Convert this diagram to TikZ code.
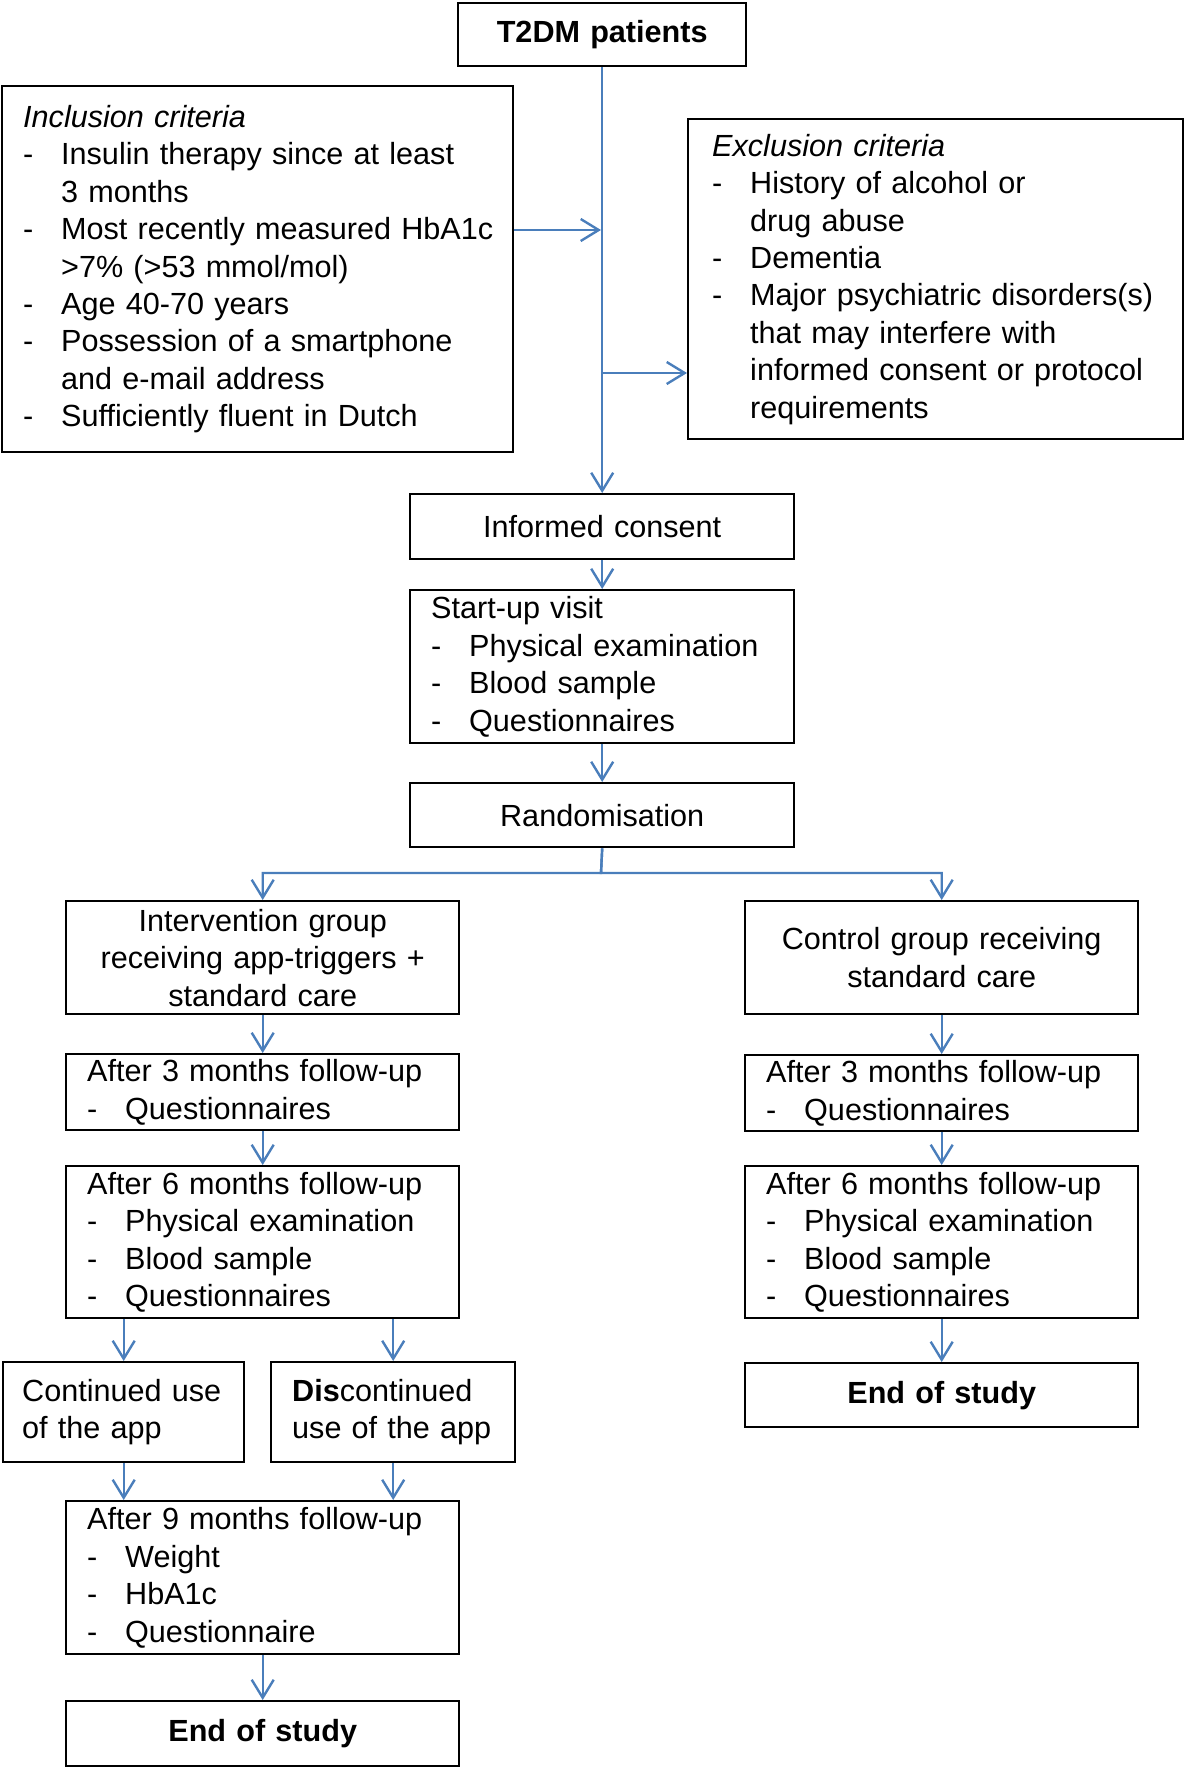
\documentclass[tikz,border=0pt]{standalone}
\usepackage{fontspec}
\setmainfont{Liberation Sans}
\usepackage{xcolor}
\usetikzlibrary{arrows.meta}
\definecolor{bleuOffice}{RGB}{74,126,187}

\begin{document}
\begin{tikzpicture}[x=0.5pt,y=-0.5pt]
% Styles (MODIFIABLES)
\tikzstyle{fleche}=[-{Straight Barb[length=9pt,width=11pt]},line width=1.2pt,draw=bleuOffice]
\tikzstyle{boite}=[draw,line width=1.2pt,inner xsep=10.5pt,inner ysep=0pt,anchor=north west,font=\fontsize{15.3}{18.7}\selectfont]
\tikzstyle{gauche}=[boite,align=left]
\tikzstyle{centre}=[boite,align=center]
% Dimensions (MODIFIABLES)
\def\Retrait{19pt}
\def\LargeurGrande{175.5pt}
\def\LargeurMoyenne{171pt}
% Lignes de texte
\def\Tiret#1{\mbox{\makebox[\Retrait][l]{-}#1}}
\def\Suite#1{\mbox{\hspace*{\Retrait}#1}}
% Cadre
\useasboundingbox (0,0) rectangle (1184,1767);
% Noeuds (MODIFIABLES)
\node[centre,text width=123pt,minimum height=31.5pt] (Patients) at (457,2) {\textbf{T2DM patients}};
\node[gauche,text width=234.5pt,minimum height=183pt] (Inclusion) at (1,85) {\textit{Inclusion criteria}\\
  \Tiret{Insulin therapy since at least}\\ \Suite{3 months}\\
  \Tiret{Most recently measured HbA1c}\\ \Suite{>7\% (>53 mmol/mol)}\\
  \Tiret{Age 40-70 years}\\
  \Tiret{Possession of a smartphone}\\ \Suite{and e-mail address}\\
  \Tiret{Sufficiently fluent in Dutch}};
\node[gauche,inner xsep=12pt,text width=223.5pt,minimum height=160pt] (Exclusion) at (687,118) {\textit{Exclusion criteria}\\
  \Tiret{History of alcohol or}\\ \Suite{drug abuse}\\
  \Tiret{Dementia}\\
  \Tiret{Major psychiatric disorders(s)}\\ \Suite{that may interfere with}\\
  \Suite{informed consent or protocol}\\ \Suite{requirements}};
\node[centre,text width=\LargeurMoyenne,minimum height=32.5pt] (Consentement) at (409,493) {Informed consent};
\node[gauche,text width=\LargeurMoyenne,minimum height=76.5pt] (Visite) at (409,589) {Start-up visit\\
  \Tiret{Physical examination}\\ \Tiret{Blood sample}\\ \Tiret{Questionnaires}};
\node[centre,text width=\LargeurMoyenne,minimum height=32pt] (Randomisation) at (409,782) {Randomisation};
% Bras intervention
\node[centre,text width=\LargeurGrande,minimum height=56.5pt] (Intervention) at (65,900) {Intervention group\\ receiving app-triggers +\\ standard care};
\node[gauche,text width=\LargeurGrande,minimum height=38pt] (SuiviTroisG) at (65,1053) {After 3 months follow-up\\ \Tiret{Questionnaires}};
\node[gauche,text width=\LargeurGrande,minimum height=76pt] (SuiviSixG) at (65,1165) {After 6 months follow-up\\
  \Tiret{Physical examination}\\ \Tiret{Blood sample}\\ \Tiret{Questionnaires}};
\node[gauche,inner xsep=9.5pt,text width=101.5pt,minimum height=50pt] (Continue) at (2,1361) {\mbox{Continued use}\\ \mbox{of the app}};
\node[gauche,text width=101pt,minimum height=50pt] (Arret) at (270,1361) {\mbox{\textbf{Dis}continued}\\ \mbox{use of the app}};
\node[gauche,text width=\LargeurGrande,minimum height=76.5pt] (SuiviNeuf) at (65,1500) {After 9 months follow-up\\
  \Tiret{Weight}\\ \Tiret{HbA1c}\\ \Tiret{Questionnaire}};
\node[centre,text width=\LargeurGrande,minimum height=32.5pt] (FinG) at (65,1700) {\textbf{End of study}};
% Bras controle
\node[centre,text width=\LargeurGrande,minimum height=56.5pt] (Controle) at (744,900) {Control group receiving\\ standard care};
\node[gauche,text width=\LargeurGrande,minimum height=38pt] (SuiviTroisD) at (744,1054) {After 3 months follow-up\\ \Tiret{Questionnaires}};
\node[gauche,text width=\LargeurGrande,minimum height=76pt] (SuiviSixD) at (744,1165) {After 6 months follow-up\\
  \Tiret{Physical examination}\\ \Tiret{Blood sample}\\ \Tiret{Questionnaires}};
\node[centre,text width=\LargeurGrande,minimum height=32pt] (FinD) at (744,1362) {\textbf{End of study}};
% Jonctions
\coordinate (JonctionA) at (601,230);
\coordinate (JonctionB) at (601,373);
\coordinate (Branche) at (601,873);
% Arcs (MODIFIABLES : Styles)
\draw[fleche] (Patients) -- (Consentement);
\draw[fleche] (JonctionA -| Inclusion.east) -- (JonctionA);
\draw[fleche] (JonctionB) -- (JonctionB -| Exclusion.west);
\draw[fleche] (Consentement) -- (Visite);
\draw[fleche] (Visite) -- (Randomisation);
\draw[fleche] (Randomisation.south) -- (Branche) -| (Intervention.north);
\draw[fleche] (Randomisation.south) -- (Branche) -| (Controle.north);
\draw[fleche] (Intervention) -- (SuiviTroisG);
\draw[fleche] (SuiviTroisG) -- (SuiviSixG);
\draw[fleche] (SuiviSixG.south -| Continue.north) -- (Continue.north);
\draw[fleche] (SuiviSixG.south -| Arret.north) -- (Arret.north);
\draw[fleche] (Continue.south) -- (Continue.south |- SuiviNeuf.north);
\draw[fleche] (Arret.south) -- (Arret.south |- SuiviNeuf.north);
\draw[fleche] (SuiviNeuf) -- (FinG);
\draw[fleche] (Controle) -- (SuiviTroisD);
\draw[fleche] (SuiviTroisD) -- (SuiviSixD);
\draw[fleche] (SuiviSixD) -- (FinD);
\end{tikzpicture}
\end{document}
